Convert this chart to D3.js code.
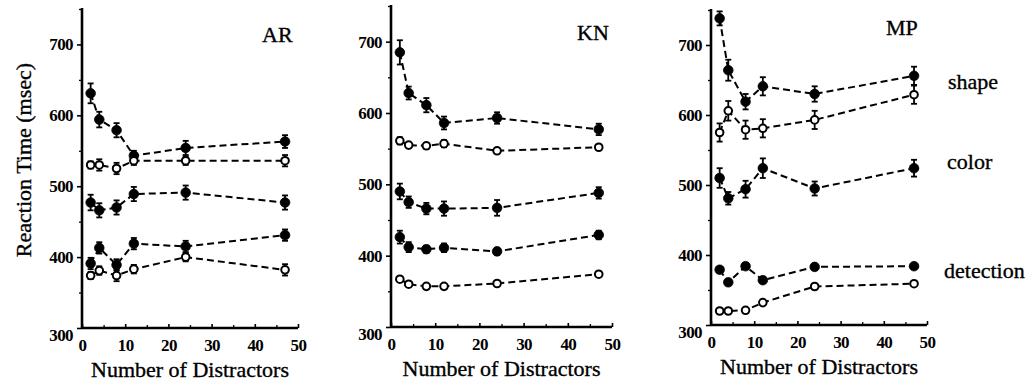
<!DOCTYPE html>
<html>
<head>
<meta charset="utf-8">
<script src="https://cdn.jsdelivr.net/npm/d3@7"></script>
<style>
  html, body { margin: 0; padding: 0; background: #fff; }
  svg { display: block; }
  text { font-family: "Liberation Serif", "Times New Roman", serif; fill: #000; }
  .lbl { stroke: #000; stroke-width: 0.35px; }
</style>
</head>
<body>
<svg id="chart" width="1036" height="389"></svg>
<script>
// ---------------- DATA ----------------
const distractors = [2, 4, 8, 12, 24, 47];
const subjects = ["AR", "KN", "MP"];
const xTicks = [0, 10, 20, 30, 40, 50];
const yTicks = [300, 400, 500, 600, 700];
const conditionLabels = ["shape", "color", "detection"];
const yLabel = "Reaction Time (msec)";
const xLabel = "Number of Distractors";

// AR
const AR_shapeFilled = [631, 594, 579, 543, 554, 563];
const AR_shapeFilledErr = [14, 11, 10, 7, 10, 9];
const AR_shapeOpen = [530, 530, 525, 536, 536, 536];
const AR_shapeOpenErr = [5, 8, 8, 6, 6, 8];
const AR_color = [477, 466, 470, 489, 491, 477];
const AR_colorErr = [11, 10, 10, 10, 10, 10];
const AR_detectFilled = [391, 413, 389, 419, 415, 431];
const AR_detectFilledErr = [8, 8, 8, 8, 8, 8];
const AR_detectOpen = [374, 381, 374, 383, 400, 382];
const AR_detectOpenErr = [5, 6, 8, 6, 6, 8];

// KN
const KN_shapeFilled = [685, 628, 611, 586, 593, 577];
const KN_shapeFilledErr = [17, 9, 10, 9, 8, 8];
const KN_shapeOpen = [561, 555, 554, 557, 547, 552];
const KN_shapeOpenErr = [5, 3, 4, 5, 3, 3];
const KN_color = [490, 475, 466, 466, 467, 488];
const KN_colorErr = [11, 8, 8, 10, 11, 8];
const KN_detectFilled = [426, 412, 409, 411, 406, 429];
const KN_detectFilledErr = [9, 7, 5, 6, 5, 6];
const KN_detectOpen = [367, 360, 357, 357, 361, 374];
const KN_detectOpenErr = [3, 2, 2, 2, 2, 3];

// MP
const MP_shapeFilled = [738, 664, 619, 641, 630, 656];
const MP_shapeFilledErr = [10, 15, 11, 13, 11, 13];
const MP_shapeOpen = [575, 606, 579, 581, 593, 629];
const MP_shapeOpenErr = [13, 14, 13, 13, 13, 13];
const MP_color = [510, 481, 494, 524, 495, 524];
const MP_colorErr = [14, 9, 12, 14, 10, 12];
const MP_detectFilled = [379, 361, 384, 364, 383, 384];
const MP_detectFilledErr = [4, 4, 4, 4, 3, 3];
const MP_detectOpen = [320, 320, 321, 332, 355, 359];
const MP_detectOpenErr = [2, 2, 2, 3, 3, 3];

function seriesFor(vals, errs, filled) {
  return { filled, pts: distractors.map((d, i) => ({ x: d, y: vals[i], e: errs[i] })) };
}
const panelSeries = {
  AR: [seriesFor(AR_shapeFilled, AR_shapeFilledErr, true), seriesFor(AR_shapeOpen, AR_shapeOpenErr, false),
       seriesFor(AR_color, AR_colorErr, true), seriesFor(AR_detectFilled, AR_detectFilledErr, true),
       seriesFor(AR_detectOpen, AR_detectOpenErr, false)],
  KN: [seriesFor(KN_shapeFilled, KN_shapeFilledErr, true), seriesFor(KN_shapeOpen, KN_shapeOpenErr, false),
       seriesFor(KN_color, KN_colorErr, true), seriesFor(KN_detectFilled, KN_detectFilledErr, true),
       seriesFor(KN_detectOpen, KN_detectOpenErr, false)],
  MP: [seriesFor(MP_shapeFilled, MP_shapeFilledErr, true), seriesFor(MP_shapeOpen, MP_shapeOpenErr, false),
       seriesFor(MP_color, MP_colorErr, true), seriesFor(MP_detectFilled, MP_detectFilledErr, true),
       seriesFor(MP_detectOpen, MP_detectOpenErr, false)]
};

// ---------------- LAYOUT ----------------
const layout = {
  AR: { x0: 82, x1: 298, yb: 328, yt: 9,  title: [262, 42] },
  KN: { x0: 391, x1: 612, yb: 327, yt: 6, title: [577, 40] },
  MP: { x0: 711, x1: 927, yb: 325, yt: 10, title: [886, 35] }
};
const svg = d3.select("#chart");

subjects.forEach(s => {
  const L = layout[s];
  const x = d3.scaleLinear().domain([0, 50]).range([L.x0, L.x1]);
  const y = d3.scaleLinear().domain([300, 750]).range([L.yb, L.yt]);
  const g = svg.append("g");

  // y axis: major ticks outward
  const yAx = g.append("g").attr("transform", `translate(${L.x0},0)`)
    .call(d3.axisLeft(y).tickValues(yTicks).tickSize(5).tickPadding(4).tickFormat(d3.format("d")));
  yAx.select(".domain").remove();
  yAx.selectAll("line").attr("stroke", "#000").attr("stroke-width", 1.6);
  yAx.selectAll("text").attr("font-size", 17).attr("font-weight", "bold")
    .attr("font-family", "Liberation Serif").attr("letter-spacing", -0.6)
    .attr("dy", d => d === 300 ? "0.75em" : "0.32em");
  // y minor ticks
  g.append("g").attr("transform", `translate(${L.x0},0)`)
    .call(d3.axisLeft(y).tickValues([350, 450, 550, 650, 750]).tickSize(3).tickFormat(""))
    .call(a => a.select(".domain").remove())
    .selectAll("line").attr("stroke", "#000").attr("stroke-width", 1.3);

  // x axis: ticks inward
  const xAx = g.append("g").attr("transform", `translate(0,${L.yb})`)
    .call(d3.axisBottom(x).tickValues(xTicks).tickSize(-4).tickPadding(0).tickFormat(d3.format("d")));
  xAx.select(".domain").remove();
  xAx.selectAll("line").attr("stroke", "#000").attr("stroke-width", 1.6);
  xAx.selectAll("text").attr("font-size", 17).attr("font-weight", "bold")
    .attr("font-family", "Liberation Serif").attr("letter-spacing", -0.6)
    .attr("y", 23).attr("dy", 0);
  g.append("g").attr("transform", `translate(0,${L.yb})`)
    .call(d3.axisBottom(x).tickValues([5, 15, 25, 35, 45]).tickSize(-3).tickFormat(""))
    .call(a => a.select(".domain").remove())
    .selectAll("line").attr("stroke", "#000").attr("stroke-width", 1.3);

  // axis lines
  g.append("line").attr("x1", L.x0).attr("x2", L.x0).attr("y1", y(750) - 1).attr("y2", L.yb + 1)
    .attr("stroke", "#000").attr("stroke-width", 2.6);
  g.append("line").attr("x1", L.x0).attr("x2", x(50)).attr("y1", L.yb).attr("y2", L.yb)
    .attr("stroke", "#000").attr("stroke-width", 2.6);

  // series
  const line = d3.line().x(d => x(d.x)).y(d => y(d.y));
  panelSeries[s].forEach(ser => {
    g.append("path").attr("d", line(ser.pts)).attr("fill", "none")
      .attr("stroke", "#000").attr("stroke-width", 2).attr("stroke-dasharray", "7,4");
    const eg = g.append("g");
    ser.pts.forEach(p => {
      const cx = x(p.x), yt = y(p.y + p.e), yb = y(p.y - p.e);
      eg.append("line").attr("x1", cx).attr("x2", cx).attr("y1", yt).attr("y2", yb)
        .attr("stroke", "#000").attr("stroke-width", 1.8);
      [yt, yb].forEach(yy => eg.append("line").attr("x1", cx - 3).attr("x2", cx + 3)
        .attr("y1", yy).attr("y2", yy).attr("stroke", "#000").attr("stroke-width", 1.8));
    });
    g.selectAll(null).data(ser.pts).enter().append("circle")
      .attr("cx", d => x(d.x)).attr("cy", d => y(d.y))
      .attr("r", ser.filled ? 4.8 : 3.8)
      .attr("fill", ser.filled ? "#000" : "#fff")
      .attr("stroke", "#000").attr("stroke-width", ser.filled ? 0.8 : 2);
  });

  // title
  g.append("text").attr("class", "lbl").attr("x", L.title[0]).attr("y", L.title[1])
    .attr("font-size", 22).text(s);

  // x label
  g.append("text").attr("class", "lbl").attr("x", (L.x0 + L.x1) / 2).attr("y", L.yb + 49)
    .attr("text-anchor", "middle").attr("font-size", 22).text(xLabel);
});

// y label
svg.append("text").attr("class", "lbl").attr("transform", "translate(31,160) rotate(-90)")
  .attr("text-anchor", "middle").attr("font-size", 22).text(yLabel);

// condition labels (right of MP panel)
const condPos = [[948, 89], [947, 169], [944, 278]];
conditionLabels.forEach((t, i) => {
  svg.append("text").attr("class", "lbl").attr("x", condPos[i][0]).attr("y", condPos[i][1])
    .attr("font-size", 22).text(t);
});
</script>
</body>
</html>
